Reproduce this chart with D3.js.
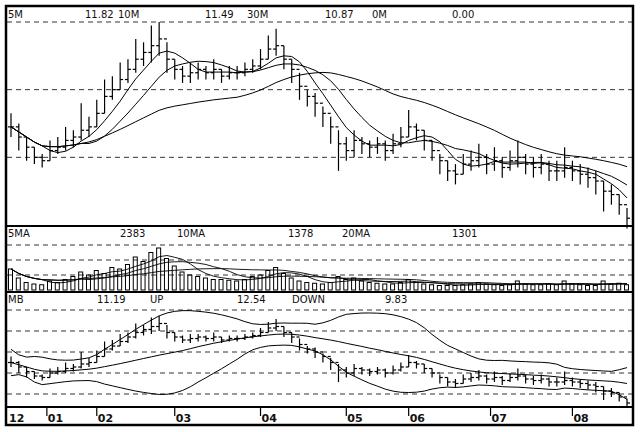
<!DOCTYPE html><html><head><meta charset="utf-8"><script src="https://cdn.jsdelivr.net/npm/d3@7"></script>
<style>body{margin:0;background:#fff}text{font-family:"DejaVu Sans",sans-serif;font-size:10px;fill:#111}</style></head><body><svg id="c" width="640" height="432"></svg><script>
const closes=[8.9,8.6,8.3,8.0,7.9,8.2,8.3,8.5,8.6,8.8,8.9,9.3,9.8,10.0,10.3,10.6,10.9,11.1,11.3,11.5,10.9,10.6,10.4,10.5,10.6,10.5,10.6,10.4,10.5,10.5,10.6,10.7,10.9,11.2,11.3,10.9,10.6,10.1,9.8,9.6,9.3,8.9,8.4,8.2,8.5,8.4,8.3,8.4,8.2,8.4,8.6,8.9,8.8,8.5,8.2,7.9,7.6,7.5,7.8,7.9,8.0,7.8,7.9,7.7,7.9,8.0,7.8,7.7,7.8,7.6,7.6,7.7,7.6,7.5,7.4,7.3,7.0,6.9,6.6,6.2];
const highs=[9.3,9.0,8.6,8.3,8.1,8.5,8.6,8.9,8.8,9.6,9.2,9.7,10.3,10.4,10.8,10.9,11.5,11.4,11.9,12.0,11.4,10.9,10.7,10.8,10.8,10.7,10.9,10.6,10.7,10.7,10.8,10.9,11.2,11.6,11.8,11.3,10.9,10.5,10.0,9.9,9.5,9.2,8.8,8.6,8.8,8.6,8.5,8.6,8.5,8.7,8.9,9.4,9.0,8.8,8.5,8.1,7.9,7.8,8.1,8.2,8.4,8.1,8.3,8.0,8.2,8.5,8.1,8.0,8.1,7.9,7.9,8.3,7.9,7.8,7.7,7.6,7.3,7.2,6.9,6.5];
const lows=[8.6,8.2,7.9,7.8,7.7,7.9,8.1,8.2,8.3,8.5,8.6,8.9,9.3,9.7,10.0,10.2,10.5,10.7,10.8,11.0,10.5,10.3,10.2,10.2,10.3,10.3,10.3,10.2,10.3,10.3,10.4,10.5,10.6,10.9,11.0,10.6,10.2,9.7,9.5,9.2,8.9,8.4,7.6,7.9,8.0,8.1,8.0,8.1,7.9,8.1,8.3,8.6,8.5,8.2,7.9,7.5,7.3,7.2,7.5,7.6,7.7,7.5,7.6,7.4,7.6,7.7,7.5,7.4,7.5,7.3,7.3,7.4,7.3,7.2,7.1,6.9,6.4,6.6,6.3,5.9];
const volumes=[1400,800,500,400,350,600,500,700,900,1200,1000,1300,1100,1500,1400,1700,2200,1900,2500,2800,2100,1600,1200,1000,900,800,700,700,650,600,700,900,1000,1300,1500,1100,800,600,500,450,400,500,900,700,800,600,500,450,400,400,500,700,500,400,350,300,300,300,350,400,500,400,350,300,350,600,400,350,350,400,350,600,400,350,300,300,600,400,450,350];
const monthLabels=["12","01","02","03","04","05","06","07","08"];
const monthIdx=[0,4.6,11,21,32,43,51,61.5,72];
const headerTop=[["5M",8],["11.82",85],["10M",118],["11.49",205],["30M",247],["10.87",325],["0M",372],["0.00",452]];
const headerVol=[["5MA",8],["2383",120],["10MA",177],["1378",288],["20MA",342],["1301",452]];
const headerMB=[["MB",8],["11.19",97],["UP",150],["12.54",237],["DOWN",292],["9.83",385]];

const svg=d3.select("#c");
const N=closes.length;
const x=d3.scaleLinear().domain([0,N-1]).range([11,627]);
const yP=d3.scaleLinear().domain([6,12]).range([225,22]);
const yV=d3.scaleLinear().domain([0,3000]).range([290,245]);
const yB=d3.scaleLinear().domain([6,12.6]).range([406,307]);
const ma=(a,n)=>a.map((_,i)=>{const s=a.slice(Math.max(0,i-n+1),i+1);return d3.mean(s);});
const line=(y)=>d3.line().x((d,i)=>x(i)).y(d=>y(d));
const clip=svg.append("clipPath").attr("id","mbclip").append("rect").attr("x",6).attr("y",293).attr("width",627).attr("height",113);
svg.append("rect").attr("x",6).attr("y",6).attr("width",627).attr("height",419).attr("fill","none").attr("stroke","#000").attr("stroke-width",2.5);
[226,292,407].forEach(v=>svg.append("line").attr("x1",6).attr("x2",633).attr("y1",v).attr("y2",v).attr("stroke","#000").attr("stroke-width",2));
const dash=v=>svg.append("line").attr("x1",7).attr("x2",632).attr("y1",v).attr("y2",v).attr("stroke","#000").attr("stroke-dasharray","5,4").attr("stroke-width",0.8);
[12,10,8].forEach(p=>dash(yP(p)));
[3000,2000,1000].forEach(v=>dash(yV(v)));
[12.4,11,9.6,8.2,6.8].forEach(p=>dash(yB(p)));
function hdr(arr,y){arr.forEach(([t,px])=>svg.append("text").attr("x",px).attr("y",y).text(t));}
hdr(headerTop,18);hdr(headerVol,237);hdr(headerMB,303);
function ohlc(y,cp){
 const g=svg.append("g").attr("stroke","#000").attr("stroke-width",1.2);
 if(cp)g.attr("clip-path","url(#mbclip)");
 closes.forEach((c,i)=>{const o=i?closes[i-1]:c;
  g.append("line").attr("x1",x(i)).attr("x2",x(i)).attr("y1",y(highs[i])).attr("y2",y(lows[i]));
  g.append("line").attr("x1",x(i)-3).attr("x2",x(i)).attr("y1",y(o)).attr("y2",y(o));
  g.append("line").attr("x1",x(i)).attr("x2",x(i)+3).attr("y1",y(c)).attr("y2",y(c));});
 return g;
}
ohlc(yP,false);
[5,10,30].forEach(n=>svg.append("path").datum(ma(closes,n)).attr("d",line(yP)).attr("fill","none").attr("stroke","#000").attr("stroke-width",1));
svg.append("g").selectAll("rect").data(volumes).join("rect").attr("x",(d,i)=>x(i)-2.5).attr("width",4).attr("y",d=>yV(d)).attr("height",d=>290-yV(d)).attr("fill","none").attr("stroke","#000").attr("stroke-width",1);
[5,10,20].forEach(n=>svg.append("path").datum(ma(volumes,n)).attr("d",line(yV)).attr("fill","none").attr("stroke","#000").attr("stroke-width",0.9));
const gB=ohlc(yB,true);
const mid=ma(closes,20);
const sd=closes.map((_,i)=>{const s=closes.slice(Math.max(0,i-19),i+1);return s.length>1?d3.deviation(s):0.4;});
const up=mid.map((m,i)=>m+2.2*Math.max(sd[i],0.3)),dn=mid.map((m,i)=>m-2.2*Math.max(sd[i],0.3));
[mid,up,dn].forEach(a=>gB.append("path").datum(a).attr("d",line(yB)).attr("fill","none").attr("stroke","#000").attr("stroke-width",1));
monthIdx.forEach((m,k)=>{const px=x(m);
 if(k>0)svg.append("line").attr("x1",px).attr("x2",px).attr("y1",408).attr("y2",416).attr("stroke","#000").attr("stroke-width",1.2);
 svg.append("text").attr("x",k?px+1:9).attr("y",422).attr("font-weight","bold").style("font-size","11px").text(monthLabels[k]);});
</script></body></html>
